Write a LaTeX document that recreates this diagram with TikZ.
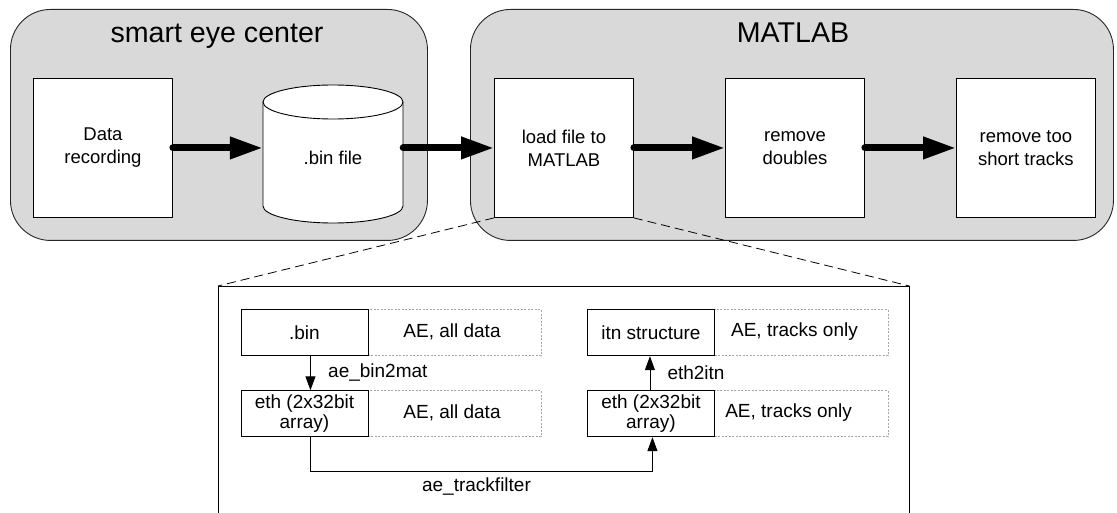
\documentclass[tikz,border=0pt]{standalone}
\usepackage{fontspec}
\setmainfont{Liberation Sans}
\usetikzlibrary{arrows.meta}
\definecolor{groupgray}{HTML}{D9D9D9}
\definecolor{dashgray}{HTML}{A6A6A6}
\begin{document}
\begin{tikzpicture}[x=1pt,y=1pt,
 group/.style={draw=black!85, fill=groupgray, rounded corners=40pt, line width=0.9pt, inner sep=0pt},
 stepbox/.style={draw=black, fill=white, line width=0.9pt, minimum width=139pt, minimum height=139pt, align=center, inner sep=0pt, font=\fontsize{18.5}{23}\selectfont},
 title/.style={font=\fontsize{28.6}{32}\selectfont, anchor=base, inner sep=0pt},
 bigarrow/.style={line width=7pt, line cap=round, -{Triangle[length=33pt,width=21pt]}},
 smallbox/.style={draw, fill=white, line width=0.9pt, minimum width=127pt, minimum height=46pt, inner sep=0pt, align=center, font=\fontsize{19}{20}\selectfont},
 note/.style={draw=dashgray, dash pattern=on 2pt off 1.5pt, line width=0.7pt, minimum width=173.5pt, minimum height=46pt, inner sep=0pt, anchor=north west},
 lbl/.style={font=\fontsize{19}{22}\selectfont, inner sep=0pt},
 thinarrow/.style={line width=0.9pt, -{Triangle[length=14pt,width=10pt]}},
 zoomline/.style={dash pattern=on 9pt off 5pt, line width=0.8pt}
]
\useasboundingbox (0,0) rectangle (1117,-513);

% group boxes
\node[group, minimum width=417pt, minimum height=231pt, anchor=north west] (sec) at (10,-9) {};
\node[group, minimum width=643pt, minimum height=231pt, anchor=north west] (mat) at (470,-9) {};
\node[title] (sectitle) at (217,-43) {smart eye center};
\node[title] (mattitle) at (793,-43) {MATLAB};

% step boxes
\node[stepbox, anchor=north west] (rec) at (33,-78) {Data\\recording};
\node[stepbox, anchor=north west] (load) at (494,-78) {load file to\\MATLAB};
\node[stepbox, anchor=north west] (rd) at (725,-78) {remove\\doubles};
\node[stepbox, anchor=north west] (rs) at (956,-78) {remove too\\short tracks};

% cylinder
\path[draw, fill=white, line width=0.9pt] (263,-102) -- (263,-206)
  arc[start angle=180, end angle=360, x radius=70pt, y radius=17pt] -- (403,-102)
  arc[start angle=0, end angle=180, x radius=70pt, y radius=17pt] -- cycle;
\draw[line width=0.9pt] (263,-102) arc[start angle=180, end angle=360, x radius=70pt, y radius=17pt];
\node[minimum width=140pt, minimum height=138pt, inner sep=0pt] (binbody) at (333,-154) {};
\node[font=\fontsize{18.5}{23}\selectfont, inner sep=0pt] (binlabel) at (333,-158) {.bin file};

% big arrows
\draw[bigarrow] (rec.east) -- (rec.east -| binbody.west);
\draw[bigarrow] (binbody.east |- load.west) -- (load.west);
\draw[bigarrow] (load.east) -- (rd.west);
\draw[bigarrow] (rd.east) -- (rs.west);

% detail frame
\node[minimum width=691pt, minimum height=240pt, inner sep=0pt, anchor=north west] (detail) at (218,-286) {};
\draw[line width=0.9pt] (detail.south west) -- (detail.north west) -- (detail.north east) -- (detail.south east);
\draw[zoomline] (load.south west) -- (detail.north west);
\draw[zoomline] (load.south east) -- (detail.north east);

% notes (dashed)
\node[note] (binnote) at (367.6,-309.3) {};
\node[note] (eth1note) at (367.6,-390.3) {};
\node[note, minimum width=173.4pt] (itnnote) at (714.3,-309.3) {};
\node[note, minimum width=173.4pt] (eth2note) at (714.3,-390.3) {};
\node[lbl] (binnotetext) at (452,-332) {AE, all data};
\node[lbl] (eth1notetext) at (452,-413) {AE, all data};
\node[lbl] (itnnotetext) at (794.5,-332) {AE, tracks only};
\node[lbl] (eth2notetext) at (788.6,-413) {AE, tracks only};

% inner boxes
\node[smallbox, anchor=north west] (bin) at (240.5,-309.3) {.bin};
\node[smallbox, anchor=north west] (eth1) at (240.5,-390.3) {eth (2x32bit\\array)};
\node[smallbox, anchor=north west, minimum width=127.6pt] (itn) at (586.7,-309.3) {itn structure};
\node[smallbox, anchor=north west, minimum width=127.6pt] (eth2) at (586.7,-390.3) {eth (2x32bit\\array)};

% inner arrows
\draw[thinarrow] ([xshift=6pt]bin.south) -- ([xshift=6pt]eth1.north);
\node[lbl, anchor=west] (lb1) at (328,-372.7) {ae\_bin2mat};
\draw[thinarrow] ([xshift=-1pt]eth2.north) -- ([xshift=-1pt]itn.south);
\node[lbl, anchor=west] (lb2) at (667.3,-373) {eth2itn};
\coordinate (e1s) at ([xshift=6pt]eth1.south);
\coordinate (e2s) at ([xshift=1.5pt]eth2.south);
\draw[thinarrow] (e1s) -- ++(0,-34.4) -| (e2s);
\node[lbl] (lb3) at (476.5,-487) {ae\_trackfilter};
\end{tikzpicture}
\end{document}
